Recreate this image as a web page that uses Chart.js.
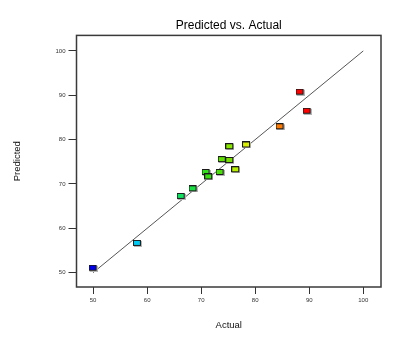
<!DOCTYPE html>
<html>
<head>
<meta charset="utf-8">
<script src="https://cdn.jsdelivr.net/npm/chart.js@4"></script>
<style>
html,body{margin:0;padding:0;background:#fff;}
#wrap{width:401px;height:356px;}
</style>
</head>
<body>
<div id="wrap"><canvas id="c" width="401" height="356"></canvas></div>
<script>
const actualValues =    [50.0, 58.2, 66.3, 68.5, 70.9, 71.4, 73.5, 73.9, 75.3, 75.3, 76.4, 78.4, 84.6, 88.3, 89.6];
const predictedValues = [51.0, 56.6, 67.2, 68.9, 72.6, 71.6, 72.6, 75.5, 75.3, 78.4, 73.2, 78.8, 82.9, 90.7, 86.4];
const pointColors = ['#0000e8','#00c8f0','#10e060','#18e040','#30e018','#38e010','#48e008','#60e000','#78e000','#88e800','#b8f000','#d8f000','#ff7a00','#ff0000','#ff0000'];
const lineEnds = [50, 100];
const tickValues = [50, 60, 70, 80, 90, 100];

function marker(color){
  const c = document.createElement('canvas');
  c.width = 9; c.height = 7;
  const g = c.getContext('2d');
  g.fillStyle = '#b4b4b4';
  g.fillRect(1, 1, 8, 6);
  g.fillStyle = '#1a1a1a';
  g.fillRect(0, 0, 8, 6);
  g.fillStyle = color;
  g.fillRect(1, 1, 6, 4);
  return c;
}

const framePlugin = {
  id: 'frame',
  beforeDatasetsDraw(chart){
    const a = chart.chartArea, ctx = chart.ctx;
    ctx.save();
    ctx.strokeStyle = '#3a3a3a';
    ctx.lineWidth = 1.5;
    ctx.strokeRect(a.left, a.top, a.right - a.left, a.bottom - a.top);
    ctx.restore();
  }
};

const tickFont = {family: 'Liberation Sans, Arial, sans-serif', size: 6};
const titleFont = {family: 'Liberation Sans, Arial, sans-serif', size: 9.5};

new Chart(document.getElementById('c'), {
  type: 'scatter',
  data: {
    datasets: [
      {
        type: 'line',
        data: lineEnds.map(v => ({x: v, y: v})),
        borderColor: '#555555',
        borderWidth: 1,
        pointRadius: 0,
        fill: false,
        order: 2
      },
      {
        data: actualValues.map((v, i) => ({x: v, y: predictedValues[i]})),
        pointStyle: pointColors.map(marker),
        pointRadius: 4,
        pointHoverRadius: 4,
        order: 1
      }
    ]
  },
  options: {
    responsive: false,
    animation: false,
    layout: {padding: {left: 0, right: 20, top: 0, bottom: 0}},
    plugins: {
      legend: {display: false},
      tooltip: {enabled: false},
      title: {
        display: true,
        text: 'Predicted vs. Actual',
        fullSize: false,
        color: '#000',
        font: {family: 'Liberation Sans, Arial, sans-serif', size: 12, weight: 'normal'},
        padding: {top: 18, bottom: 3}
      }
    },
    scales: {
      x: {
        type: 'linear',
        min: 46.93, max: 103.28,
        afterBuildTicks: s => { s.ticks = tickValues.map(v => ({value: v})); },
        afterFit: s => { s.height = 69; },
        grid: {drawOnChartArea: false, drawTicks: true, tickLength: 7, color: '#333'},
        border: {display: false},
        ticks: {font: tickFont, color: '#333', padding: 3, maxRotation: 0},
        title: {display: true, text: 'Actual', font: titleFont, color: '#111', padding: {top: 0, bottom: 24.5}}
      },
      y: {
        type: 'linear',
        min: 46.77, max: 103.5,
        afterBuildTicks: s => { s.ticks = tickValues.map(v => ({value: v})); },
        afterFit: s => { s.width = 76.5; },
        grid: {drawOnChartArea: false, drawTicks: true, tickLength: 8, color: '#333'},
        border: {display: false},
        ticks: {font: tickFont, color: '#333', padding: 3},
        title: {display: true, text: 'Predicted', font: titleFont, color: '#111', padding: {top: 11.3, bottom: 0}}
      }
    }
  },
  plugins: [framePlugin]
});
</script>
</body>
</html>
